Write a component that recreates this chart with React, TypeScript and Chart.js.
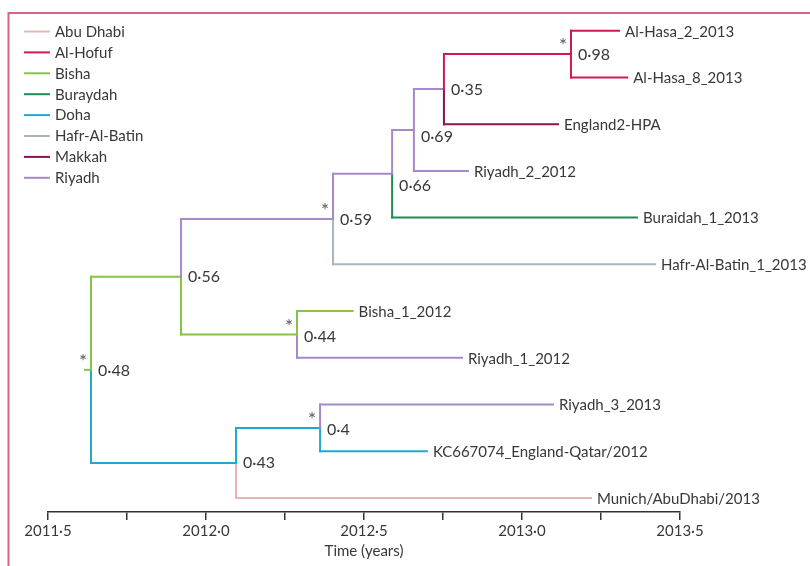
import React, { useEffect, useRef } from 'react';
import { Chart, registerables } from 'chart.js';

Chart.register(...registerables);

// ---------- DATA ----------
const regionNames = ['Abu Dhabi', 'Al-Hofuf', 'Bisha', 'Buraydah', 'Doha', 'Hafr-Al-Batin', 'Makkah', 'Riyadh'];
const regionColors = ['#e8b5b5', '#d11a52', '#84c446', '#1f8c50', '#20a8d0', '#a9b6c0', '#8a1459', '#a788c8'];

const leafNames = [
  'Al-Hasa_2_2013',
  'Al-Hasa_8_2013',
  'England2-HPA',
  'Riyadh_2_2012',
  'Buraidah_1_2013',
  'Hafr-Al-Batin_1_2013',
  'Bisha_1_2012',
  'Riyadh_1_2012',
  'Riyadh_3_2013',
  'KC667074_England-Qatar/2012',
  'Munich/AbuDhabi/2013',
];
const leafTimes = [2013.307, 2013.333, 2013.114, 2012.829, 2013.364, 2013.421, 2012.464, 2012.81, 2013.098, 2012.699, 2013.218];
const leafRegions = ['Al-Hofuf', 'Al-Hofuf', 'Makkah', 'Riyadh', 'Buraydah', 'Hafr-Al-Batin', 'Bisha', 'Riyadh', 'Riyadh', 'Doha', 'Abu Dhabi'];

// internal nodes (children listed before parents)
const nodeSupport = ['0·98', '0·35', '0·69', '0·66', '0·59', '0·44', '0·56', '0·4', '0·43', '0·48'];
const nodeTimes = [2013.155, 2012.753, 2012.658, 2012.589, 2012.402, 2012.288, 2011.921, 2012.361, 2012.095, 2011.636];
const nodeChildren = [
  ['L0', 'L1'],
  ['N0', 'L2'],
  ['N1', 'L3'],
  ['N2', 'L4'],
  ['N3', 'L5'],
  ['L6', 'L7'],
  ['N4', 'N5'],
  ['L8', 'L9'],
  ['N7', 'L10'],
  ['N6', 'N8'],
];
const nodeRegions = ['Al-Hofuf', 'Riyadh', 'Riyadh', 'Riyadh', 'Riyadh', 'Bisha', 'Bisha', 'Doha', 'Doha', 'Bisha'];
const nodeStarred = [true, false, false, false, true, true, false, true, false, true];
const rootStemStart = 2011.617;

const tickValues = [2011.5, 2011.75, 2012.0, 2012.25, 2012.5, 2012.75, 2013.0, 2013.25, 2013.5];
const tickLabels = ['2011·5', '', '2012·0', '', '2012·5', '', '2013·0', '', '2013·5'];
const axisTitle = 'Time (years)';

// ---------- STYLE ----------
const FONT = 'Lato';
const TEXT = '#383838';
const FRAME = '#d9628c';
const labelNudge = [1, 1, 7, 12, 1, 2, 0, 2, 0, 1];

const colorOf = (region: string) => regionColors[regionNames.indexOf(region)];

export default function App() {
  const ref = useRef<HTMLCanvasElement>(null);

  useEffect(() => {
    const canvas = ref.current;
    if (!canvas) return;

    const nodeY: number[] = [];
    const isLeaf = (id: string) => id[0] === 'L';
    const idx = (id: string) => parseInt(id.slice(1), 10);
    const getY = (id: string) => (isLeaf(id) ? idx(id) : nodeY[idx(id)]);
    const getX = (id: string) => (isLeaf(id) ? leafTimes[idx(id)] : nodeTimes[idx(id)]);
    const getRegion = (id: string) => (isLeaf(id) ? leafRegions[idx(id)] : nodeRegions[idx(id)]);
    nodeChildren.forEach((ch, i) => {
      nodeY[i] = (getY(ch[0]) + getY(ch[1])) / 2;
    });

    const segs: { a: { x: number; y: number }; b: { x: number; y: number }; c: string }[] = [];
    nodeChildren.forEach((ch, i) => {
      ch.forEach((c) => {
        const col = colorOf(getRegion(c));
        segs.push({ a: { x: nodeTimes[i], y: nodeY[i] }, b: { x: nodeTimes[i], y: getY(c) }, c: col });
        segs.push({ a: { x: nodeTimes[i], y: getY(c) }, b: { x: getX(c), y: getY(c) }, c: col });
      });
    });
    const root = nodeChildren.length - 1;
    segs.push({
      a: { x: rootStemStart, y: nodeY[root] },
      b: { x: nodeTimes[root], y: nodeY[root] },
      c: colorOf(nodeRegions[root]),
    });

    const datasets = segs.map((s) => ({
      data: [s.a, s.b],
      borderColor: s.c,
      backgroundColor: s.c,
      borderWidth: 2,
      showLine: true,
      pointRadius: 0,
      pointHoverRadius: 0,
      clip: false as any,
      borderCapStyle: 'square' as const,
    }));

    const textPlugin = {
      id: 'treeText',
      afterDatasetsDraw(chart: any) {
        const ctx = chart.ctx as CanvasRenderingContext2D;
        const xs = chart.scales.x;
        const ys = chart.scales.y;
        ctx.save();
        // frame
        ctx.strokeStyle = FRAME;
        ctx.lineWidth = 2;
        ctx.beginPath();
        ctx.moveTo(8.5, 566);
        ctx.lineTo(8.5, 13);
        ctx.lineTo(810, 13);
        ctx.stroke();

        ctx.fillStyle = TEXT;
        ctx.textBaseline = 'middle';
        ctx.textAlign = 'left';
        // leaf labels
        ctx.font = `15px ${FONT}`;
        leafNames.forEach((n, i) => {
          ctx.fillText(n, xs.getPixelForValue(leafTimes[i]) + 6, ys.getPixelForValue(i) + 1);
        });
        // node labels
        ctx.font = `16px ${FONT}`;
        nodeSupport.forEach((s, i) => {
          ctx.fillText(s, xs.getPixelForValue(nodeTimes[i]) + 7, ys.getPixelForValue(nodeY[i]) + labelNudge[i]);
        });
        // stars
        ctx.font = `19px ${FONT}`;
        ctx.fillStyle = '#555';
        ctx.textAlign = 'right';
        nodeSupport.forEach((_, i) => {
          if (!nodeStarred[i]) return;
          ctx.fillText('*', xs.getPixelForValue(nodeTimes[i]) - 4, ys.getPixelForValue(nodeY[i]) - 8);
        });
        // legend
        ctx.textAlign = 'left';
        ctx.font = `15px ${FONT}`;
        regionNames.forEach((r, i) => {
          const y = 31 + i * 20.9;
          ctx.strokeStyle = regionColors[i];
          ctx.lineWidth = 2;
          ctx.beginPath();
          ctx.moveTo(24, y + 0.5);
          ctx.lineTo(50, y + 0.5);
          ctx.stroke();
          ctx.fillStyle = TEXT;
          ctx.fillText(r, 55, y + 1);
        });
        ctx.restore();
      },
    };

    const chart = new Chart(canvas, {
      type: 'scatter',
      data: { datasets },
      options: {
        animation: false,
        responsive: false,
        maintainAspectRatio: false,
        events: [],
        layout: { padding: { left: 48, right: 130, top: 12, bottom: 0 } },
        plugins: { legend: { display: false }, tooltip: { enabled: false } },
        scales: {
          x: {
            type: 'linear',
            min: tickValues[0],
            max: tickValues[tickValues.length - 1],
            afterBuildTicks: (scale: any) => {
              scale.ticks = tickValues.map((v) => ({ value: v }));
            },
            afterFit: (scale: any) => {
              scale.height = 54;
            },
            ticks: {
              autoSkip: false,
              maxRotation: 0,
              padding: 2,
              color: TEXT,
              font: { family: FONT, size: 15 },
              callback: (_v: any, i: number) => tickLabels[i],
            },
            grid: { drawOnChartArea: false, drawTicks: true, tickLength: 8, color: '#333', lineWidth: 1.5 },
            border: { display: true, color: '#333', width: 1.5 },
            title: {
              display: true,
              text: axisTitle,
              color: TEXT,
              font: { family: FONT, size: 15 },
              padding: { top: 2, bottom: 6 },
            },
          },
          y: {
            type: 'linear',
            display: false,
            reverse: true,
            min: -0.4,
            max: 10.3,
          },
        },
      },
      plugins: [textPlugin],
    } as any);

    return () => chart.destroy();
  }, []);

  return (
    <div style={{ position: 'fixed', left: 0, top: 0, width: 810, height: 566, background: '#fff' }}>
      <canvas ref={ref} width={810} height={566} style={{ display: 'block' }} />
    </div>
  );
}
